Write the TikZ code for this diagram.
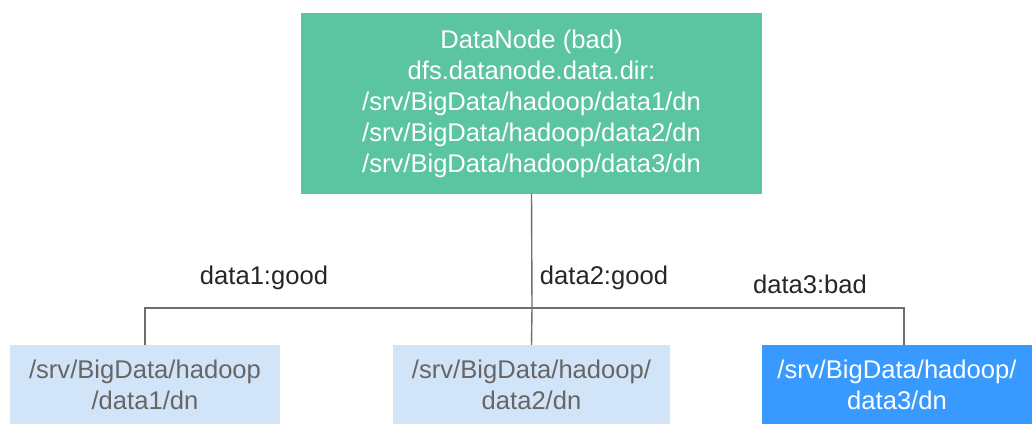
\documentclass[tikz,border=0pt]{standalone}
\usepackage{fontspec}
\setmainfont{Liberation Sans}
\definecolor{teal}{HTML}{5BC4A0}
\definecolor{lightblue}{HTML}{D2E5F8}
\definecolor{brightblue}{HTML}{3899FF}
\definecolor{graytext}{HTML}{666666}
\definecolor{linegray}{HTML}{6E6E6E}
\definecolor{labeltext}{HTML}{262626}
\begin{document}
\begin{tikzpicture}[x=1pt,y=-1pt,
  boxbase/.style={rectangle,inner sep=0pt,align=center,font=\fontsize{25.6}{31}\selectfont},
  topbox/.style={boxbase,fill=teal,text=white,minimum width=461pt,minimum height=181pt},
  goodbox/.style={boxbase,fill=lightblue,text=graytext,minimum width=274pt,minimum height=79pt},
  badbox/.style={boxbase,fill=brightblue,text=white,minimum width=270pt,minimum height=79pt},
  conn/.style={draw=linegray,line width=1.4pt},
  lbl/.style={text=labeltext,inner sep=0pt,font=\fontsize{25.6}{31}\selectfont}]
\useasboundingbox (0,0) rectangle (1032,424);
\node[topbox] (top) at (531.5,103.5) {DataNode (bad)\\dfs.datanode.data.dir:\\/srv/BigData/hadoop/data1/dn\\/srv/BigData/hadoop/data2/dn\\/srv/BigData/hadoop/data3/dn};
\node[goodbox,minimum width=270pt] (b1) at (145,384.5) {/srv/BigData/hadoop\\/data1/dn};
\node[goodbox,minimum width=277pt] (b2) at (531.5,384.5) {/srv/BigData/hadoop/\\data2/dn};
\node[badbox] (b3) at (897,384.5) {/srv/BigData/hadoop/\\data3/dn};
\coordinate (j) at (532,308);
\draw[conn] (top.south) -- (j);
\draw[conn] (b1.north) |- (j) -| ([xshift=7pt]b3.north);
\draw[conn] (j) -- (b2.north);
\node[lbl] (l1) at (264,278) {data1:good};
\node[lbl] (l2) at (604,278) {data2:good};
\node[lbl] (l3) at (810,284) {data3:bad};
\end{tikzpicture}
\end{document}
